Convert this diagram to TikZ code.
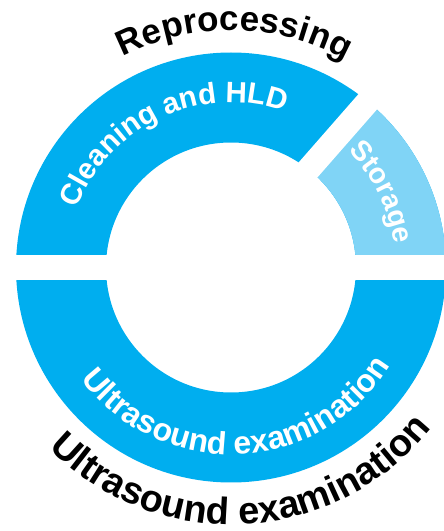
\documentclass[tikz,border=0pt]{standalone}
\usepackage{fontspec}
\setmainfont{Liberation Sans}
\usetikzlibrary{decorations.text,calc}
\definecolor{ringblue}{HTML}{00AEEF}
\definecolor{storeblue}{HTML}{80D4F6}
\begin{document}
\begin{tikzpicture}[x=1pt,y=1pt]
\useasboundingbox (0,0) rectangle (444,531);
\coordinate (C) at (231,263.5);
\coordinate (G) at ($(C)+(-4.7,4.2)$);
% ring
\fill[ringblue, even odd rule] (C) circle[radius=215pt] (C) circle[radius=125pt];
\begin{scope}
\clip (G) -- ($(G)+(0:330pt)$) -- ($(G)+(48.8:420pt)$) -- cycle;
\fill[storeblue, even odd rule] (C) circle[radius=215pt] (C) circle[radius=125pt];
\end{scope}
% gaps
\fill[white] ($(C)+(-240,-12.5)$) rectangle ($(C)+(240,12.5)$);
\begin{scope}[shift={(G)}, rotate=48.8]
\fill[white] (0,-12) rectangle (260,12);
\end{scope}
% labels
\path[decorate, decoration={text along path, text align=center,
  text={|\color{black}\fontsize{35}{35}\selectfont\bfseries|Reprocessing}}]
  ($(C)+(149.2:237pt)$) arc[start angle=149.2, end angle=29.2, radius=237pt];
\path[decorate, decoration={text along path, text align=center,
  text={|\color{white}\fontsize{29.5}{29.5}\selectfont\bfseries|Cleaning and HLD}}]
  ($(C)+(185:165pt)$) arc[start angle=185, end angle=45, radius=165pt];
\path[decorate, decoration={text along path, text align=center,
  text={|\color{white}\fontsize{28.5}{28.5}\selectfont\bfseries|Storage}}]
  ($(C)+(76.5:165pt)$) arc[start angle=76.5, end angle=-23.5, radius=165pt];
\path[decorate, decoration={text along path, text align=center,
  text={|\color{white}\fontsize{32}{32}\selectfont\bfseries|Ultrasound examination}}]
  ($(C)+(192.5:187pt)$) arc[start angle=192.5, end angle=352.5, radius=187pt];
\path[decorate, decoration={text along path, text align=center,
  text={|\color{black}\fontsize{38}{38}\selectfont\bfseries|Ultrasound examination}}]
  ($(C)+(203:257pt)$) arc[start angle=203, end angle=343, radius=257pt];
\end{tikzpicture}
\end{document}
